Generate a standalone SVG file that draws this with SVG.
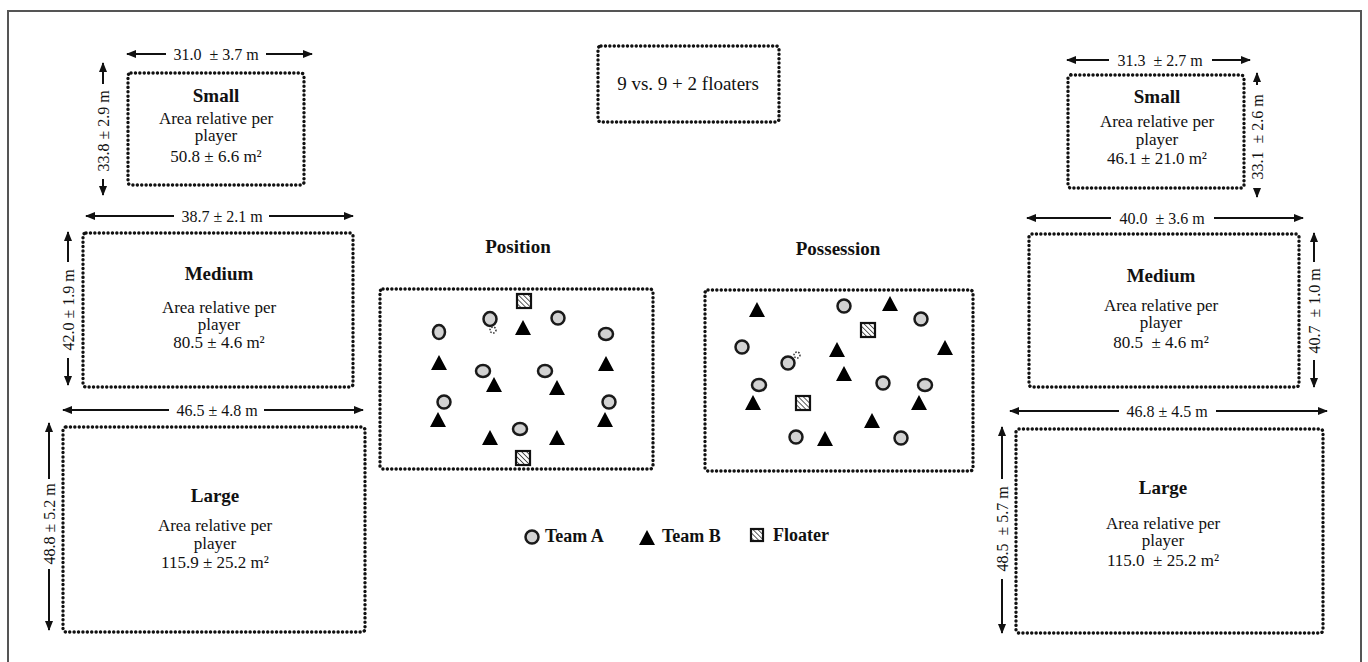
<svg xmlns="http://www.w3.org/2000/svg" width="1368" height="662" viewBox="0 0 1368 662">
<style>
.t{font-family:"Liberation Serif","Times New Roman",serif;fill:#111}
.b{font-weight:bold}
.dim{font-size:16px}
.ttl{font-size:19px;font-weight:bold}
.body{font-size:17px}
.box{fill:none;stroke:#111;stroke-width:3.4;stroke-dasharray:0.1 4.3;stroke-linecap:round}
.arr{stroke:#111;stroke-width:2;fill:none}
.pa{fill:#d2d2d2;stroke:#1a1a1a;stroke-width:2.5}
.pb{fill:#000}
.fl{fill:url(#hatch);stroke:#111;stroke-width:2.2}
.ball{fill:none;stroke:#333;stroke-width:1.5;stroke-dasharray:1.5 1.5}
</style>
<defs>
<marker id="ah" viewBox="0 0 10 8" refX="9" refY="4" markerWidth="10" markerHeight="8" markerUnits="userSpaceOnUse" orient="auto-start-reverse">
<path d="M0,0 L10,4 L0,8 Z" fill="#111"/>
</marker>
<pattern id="hatch" patternUnits="userSpaceOnUse" width="3.5" height="3.5" patternTransform="rotate(-45)">
<rect width="3.5" height="3.5" fill="#fff"/>
<line x1="0" y1="0" x2="0" y2="3.5" stroke="#333" stroke-width="1.6"/>
</pattern>
</defs>
<rect x="8" y="11" width="1353" height="660" fill="#fff" stroke="#555" stroke-width="2"/>

<g id="connectors">
<line class="arr" x1="166" y1="54" x2="127" y2="54" marker-end="url(#ah)"/>
<line class="arr" x1="266" y1="54" x2="312" y2="54" marker-end="url(#ah)"/>
<line class="arr" x1="103" y1="84" x2="103" y2="63" marker-end="url(#ah)"/>
<line class="arr" x1="103" y1="179" x2="103" y2="195" marker-end="url(#ah)"/>
<line class="arr" x1="174" y1="216" x2="86" y2="216" marker-end="url(#ah)"/>
<line class="arr" x1="269" y1="216" x2="353" y2="216" marker-end="url(#ah)"/>
<line class="arr" x1="68" y1="262" x2="68" y2="232" marker-end="url(#ah)"/>
<line class="arr" x1="68" y1="358" x2="68" y2="385" marker-end="url(#ah)"/>
<line class="arr" x1="169" y1="410" x2="63" y2="410" marker-end="url(#ah)"/>
<line class="arr" x1="264" y1="410" x2="363" y2="410" marker-end="url(#ah)"/>
<line class="arr" x1="49" y1="479" x2="49" y2="423" marker-end="url(#ah)"/>
<line class="arr" x1="49" y1="569" x2="49" y2="630" marker-end="url(#ah)"/>
<line class="arr" x1="1109" y1="60" x2="1067" y2="60" marker-end="url(#ah)"/>
<line class="arr" x1="1212" y1="60" x2="1250" y2="60" marker-end="url(#ah)"/>
<line class="arr" x1="1257" y1="85" x2="1257" y2="73" marker-end="url(#ah)"/>
<line class="arr" x1="1257" y1="189" x2="1257" y2="197" marker-end="url(#ah)"/>
<line class="arr" x1="1111" y1="218" x2="1027" y2="218" marker-end="url(#ah)"/>
<line class="arr" x1="1214" y1="218" x2="1303" y2="218" marker-end="url(#ah)"/>
<line class="arr" x1="1314" y1="262" x2="1314" y2="233" marker-end="url(#ah)"/>
<line class="arr" x1="1314" y1="360" x2="1314" y2="387" marker-end="url(#ah)"/>
<line class="arr" x1="1119" y1="411" x2="1010" y2="411" marker-end="url(#ah)"/>
<line class="arr" x1="1216" y1="411" x2="1327" y2="411" marker-end="url(#ah)"/>
<line class="arr" x1="1002" y1="479" x2="1002" y2="427" marker-end="url(#ah)"/>
<line class="arr" x1="1002" y1="579" x2="1002" y2="633" marker-end="url(#ah)"/>
</g>

<g id="dim-labels" class="t dim" text-anchor="middle">
<text x="216" y="59.5">31.0 &#160;± 3.7 m</text>
<text x="222" y="221.5">38.7 ± 2.1 m</text>
<text x="217" y="415.5">46.5 ± 4.8 m</text>
<text transform="translate(108.5,131) rotate(-90)">33.8 ± 2.9 m</text>
<text transform="translate(73.5,310) rotate(-90)">42.0 ± 1.9 m</text>
<text transform="translate(54.5,524) rotate(-90)">48.8 ± 5.2 m</text>
<text x="1160" y="65.5">31.3 &#160;± 2.7 m</text>
<text x="1162" y="223.5">40.0 &#160;± 3.6 m</text>
<text x="1167" y="416.5">46.8 ± 4.5 m</text>
<text transform="translate(1262.5,137) rotate(-90)">33.1 &#160;± 2.6 m</text>
<text transform="translate(1319.5,311) rotate(-90)">40.7 &#160;± 1.0 m</text>
<text transform="translate(1007.5,529) rotate(-90)">48.5 &#160;± 5.7 m</text>
</g>

<g id="left-small">
<rect class="box" x="128" y="73" width="176" height="112" rx="3"/>
<text class="t ttl" x="216" y="102" text-anchor="middle">Small</text>
<text class="t body" x="216" y="124" text-anchor="middle">Area relative per</text>
<text class="t body" x="216" y="141" text-anchor="middle">player</text>
<text class="t body" x="216" y="162" text-anchor="middle">50.8 ± 6.6 m²</text>
</g>
<g id="left-medium">
<rect class="box" x="83" y="233" width="270" height="154" rx="3"/>
<text class="t ttl" x="219" y="280" text-anchor="middle">Medium</text>
<text class="t body" x="219" y="313" text-anchor="middle">Area relative per</text>
<text class="t body" x="219" y="330" text-anchor="middle">player</text>
<text class="t body" x="219" y="348" text-anchor="middle">80.5 ± 4.6 m²</text>
</g>
<g id="left-large">
<rect class="box" x="63" y="427" width="302" height="205" rx="3"/>
<text class="t ttl" x="215" y="502" text-anchor="middle">Large</text>
<text class="t body" x="215" y="531" text-anchor="middle">Area relative per</text>
<text class="t body" x="215" y="549" text-anchor="middle">player</text>
<text class="t body" x="215" y="568" text-anchor="middle">115.9 ± 25.2 m²</text>
</g>

<g id="right-small">
<rect class="box" x="1068" y="75" width="176" height="113" rx="3"/>
<text class="t ttl" x="1157" y="103" text-anchor="middle">Small</text>
<text class="t body" x="1157" y="127" text-anchor="middle">Area relative per</text>
<text class="t body" x="1157" y="145" text-anchor="middle">player</text>
<text class="t body" x="1157" y="164" text-anchor="middle">46.1 ± 21.0 m²</text>
</g>
<g id="right-medium">
<rect class="box" x="1029" y="234" width="270" height="153" rx="3"/>
<text class="t ttl" x="1161" y="282" text-anchor="middle">Medium</text>
<text class="t body" x="1161" y="311" text-anchor="middle">Area relative per</text>
<text class="t body" x="1161" y="328" text-anchor="middle">player</text>
<text class="t body" x="1161" y="348" text-anchor="middle">80.5 &#160;± 4.6 m²</text>
</g>
<g id="right-large">
<rect class="box" x="1016" y="429" width="307" height="204" rx="3"/>
<text class="t ttl" x="1163" y="494" text-anchor="middle">Large</text>
<text class="t body" x="1163" y="529" text-anchor="middle">Area relative per</text>
<text class="t body" x="1163" y="546" text-anchor="middle">player</text>
<text class="t body" x="1163" y="566" text-anchor="middle">115.0 &#160;± 25.2 m²</text>
</g>

<g id="format-box">
<rect class="box" x="598" y="46" width="181" height="76" rx="3"/>
<text class="t" x="688" y="90" text-anchor="middle" font-size="19">9 vs. 9 + 2 floaters</text>
</g>

<g id="position-field">
<text class="t ttl" x="518" y="253" text-anchor="middle">Position</text>
<rect class="box" x="380" y="289" width="273" height="180" rx="3"/>
<rect class="fl" x="517" y="294" width="14" height="14"/>
<rect class="fl" x="516" y="451" width="14" height="14"/>
<ellipse class="pa" cx="490" cy="319" rx="6.5" ry="7"/>
<ellipse class="pa" cx="558" cy="318" rx="6.5" ry="6.5"/>
<ellipse class="pa" cx="439" cy="332" rx="6" ry="7"/>
<ellipse class="pa" cx="606" cy="334" rx="7" ry="6"/>
<ellipse class="pa" cx="483" cy="371" rx="7" ry="6"/>
<ellipse class="pa" cx="545" cy="371" rx="7" ry="6"/>
<ellipse class="pa" cx="444" cy="402" rx="6.5" ry="6.5"/>
<ellipse class="pa" cx="609" cy="402" rx="6.5" ry="6.5"/>
<ellipse class="pa" cx="520" cy="429" rx="7" ry="6"/>
<circle class="ball" cx="493" cy="330" r="3"/>
<polygon class="pb" points="523,320 531,335 515,335"/>
<polygon class="pb" points="439,355 447,370 431,370"/>
<polygon class="pb" points="494,377 502,392 486,392"/>
<polygon class="pb" points="606,356 614,371 598,371"/>
<polygon class="pb" points="557,380 565,395 549,395"/>
<polygon class="pb" points="438,412 446,427 430,427"/>
<polygon class="pb" points="605,412 613,427 597,427"/>
<polygon class="pb" points="490,430 498,445 482,445"/>
<polygon class="pb" points="557,430 565,445 549,445"/>
</g>

<g id="possession-field">
<text class="t ttl" x="838" y="255" text-anchor="middle">Possession</text>
<rect class="box" x="705" y="290" width="268" height="181" rx="3"/>
<rect class="fl" x="861" y="323" width="14" height="14"/>
<rect class="fl" x="796" y="396" width="14" height="14"/>
<circle class="pa" cx="844" cy="306" r="6.5"/>
<circle class="pa" cx="921" cy="319" r="6.5"/>
<circle class="pa" cx="742" cy="347" r="6.5"/>
<circle class="pa" cx="788" cy="363" r="6.5"/>
<ellipse class="pa" cx="759" cy="385" rx="7" ry="6"/>
<circle class="pa" cx="883" cy="383" r="6.5"/>
<ellipse class="pa" cx="925" cy="385" rx="7" ry="6"/>
<circle class="pa" cx="796" cy="437" r="6.5"/>
<circle class="pa" cx="901" cy="438" r="6.5"/>
<circle class="ball" cx="797" cy="355" r="3"/>
<polygon class="pb" points="757,302 765,317 749,317"/>
<polygon class="pb" points="890,296 898,311 882,311"/>
<polygon class="pb" points="837,342 845,357 829,357"/>
<polygon class="pb" points="945,340 953,355 937,355"/>
<polygon class="pb" points="844,366 852,381 836,381"/>
<polygon class="pb" points="753,395 761,410 745,410"/>
<polygon class="pb" points="919,395 927,410 911,410"/>
<polygon class="pb" points="872,413 880,428 864,428"/>
<polygon class="pb" points="825,431 833,446 817,446"/>
</g>

<g id="legend">
<circle class="pa" cx="532" cy="537" r="6.5"/>
<text class="t b" x="545" y="542" font-size="18">Team A</text>
<polygon class="pb" points="647,530 655,545 639,545"/>
<text class="t b" x="662" y="542" font-size="18">Team B</text>
<rect class="fl" x="751" y="529" width="12" height="12"/>
<text class="t b" x="773" y="541" font-size="18">Floater</text>
</g>
</svg>
